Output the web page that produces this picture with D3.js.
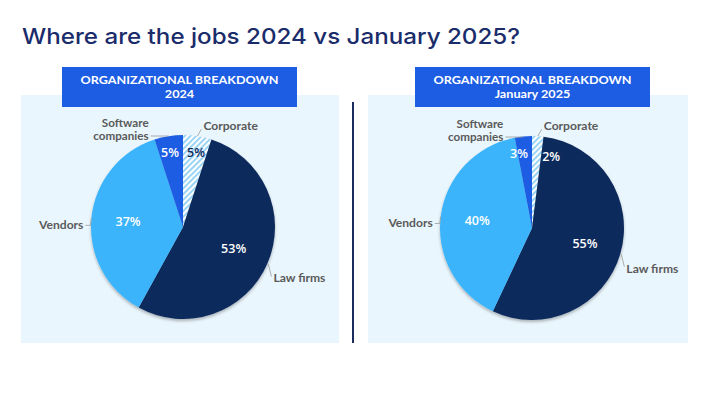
<!DOCTYPE html>
<html>
<head>
<meta charset="utf-8">
<script src="https://cdn.jsdelivr.net/npm/d3@7"></script>
<style>
  body { margin: 0; background: #fff; }
  svg { display: block; font-family: "Open Sans", "Noto Sans", sans-serif; }
</style>
</head>
<body>
<svg width="706" height="397"></svg>
<script>
// data
var categories = ["Corporate", "Law firms", "Vendors", "Software companies"]
var share2024 = [5, 53, 37, 5]
var shareJan2025 = [2, 55, 40, 3]
var panelTitles = ["2024", "January 2025"]
var headline = "Where are the jobs 2024 vs January 2025?"

var svg = d3.select('svg'),
    width = 706,
    height = 397,
    navy = '#0f2a5c',
    titleNavy = '#1b2c6b',
    brightBlue = '#1d5de4',
    skyBlue = '#3bb4fb',
    panelBg = '#eaf6fd',
    labelGrey = '#5a5a5a',
    radius = 92

var colorScale = d3.scaleOrdinal()
    .domain(categories)
    .range(['url(#hatch)', navy, skyBlue, brightBlue])

// where the outer labels sit, relative to the slice's mid point on the rim
var labelLayout = {
    "Corporate":          {dx: 6,   dy: -10, anchor: 'start', leader: [[0, 0], [4, -7]]},
    "Law firms":          {dx: 6,   dy: 15,  anchor: 'start', leader: [[1, 1], [4, 13]]},
    "Vendors":            {dx: -8,  dy: 7,   anchor: 'end',   leader: [[-1, 7], [-6, 7]]},
    "Software companies": {dx: -20, dy: -6,  anchor: 'end',   leader: [[0, -3], [-18, -3]]}
}

var defs = svg.append('defs')

var hatch = defs.append('pattern')
    .attr('id', 'hatch')
    .attr('patternUnits', 'userSpaceOnUse')
    .attr('width', 4).attr('height', 4)
    .attr('patternTransform', 'rotate(45)')
hatch.append('rect').attr('width', 4).attr('height', 4).attr('fill', '#fff')
hatch.append('rect').attr('width', 1.8).attr('height', 4).attr('fill', '#8fd0f4')

var shadow = defs.append('filter')
    .attr('id', 'pieShadow')
    .attr('x', '-20%').attr('y', '-20%').attr('width', '140%').attr('height', '140%')
shadow.append('feDropShadow')
    .attr('dx', 0).attr('dy', 2)
    .attr('stdDeviation', 1.8)
    .attr('flood-color', '#000')
    .attr('flood-opacity', 0.28)

svg.append('rect').attr('width', width).attr('height', height).attr('fill', '#fff')

// Lato is narrower than the deck's font, so stretch it a little
function widen(sel, factor){
    var w = sel.node().getComputedTextLength()
    sel.attr('textLength', w*factor).attr('lengthAdjust', 'spacingAndGlyphs')
}

// headline
svg.append('text')
    .attr('x', 22)
    .attr('y', 44)
    .attr('fill', titleNavy)
    .attr('font-family', 'Inter, "Open Sans", sans-serif')
    .attr('font-size', 22)
    .attr('font-weight', 500)
    .attr('textLength', 498)
    .attr('lengthAdjust', 'spacingAndGlyphs')
    .text(headline)

// divider between the two pies
svg.append('line')
    .attr('x1', 353).attr('x2', 353)
    .attr('y1', 102).attr('y2', 343)
    .attr('stroke', '#1a2b5e')
    .attr('stroke-width', 2)

var panels = [
    {x: 21,  w: 318, cx: 183, cy: 227, headX: 62,  headW: 235, values: share2024, title: panelTitles[0]},
    {x: 368, w: 320, cx: 532, cy: 228, headX: 415, headW: 235, values: shareJan2025, title: panelTitles[1]}
]

var pie = d3.pie().sort(null).value(d=>d.value)
var arc = d3.arc().innerRadius(0).outerRadius(radius)

panels.forEach(drawPanel)

function drawPanel(p){
    var g = svg.append('g')

    g.append('rect')
        .attr('x', p.x).attr('y', 95)
        .attr('width', p.w).attr('height', 248)
        .attr('fill', panelBg)

    g.append('rect')
        .attr('x', p.headX).attr('y', 67)
        .attr('width', p.headW).attr('height', 40)
        .attr('fill', brightBlue)

    // two single-line texts so each line keeps its own box
    var stretch = 1
    ;['ORGANIZATIONAL BREAKDOWN', p.title].forEach((line,i)=>{
        var t = g.append('text')
            .attr('x', p.headX + p.headW/2)
            .attr('y', 83.5 + i*14)
            .attr('text-anchor', 'middle')
            .attr('fill', '#fff')
            .attr('font-family', 'Lato, sans-serif')
            .attr('font-size', 11.6)
            .attr('font-weight', 700)
            .text(line)
        if (i == 0) stretch = 198 / t.node().getComputedTextLength()
        widen(t, stretch)
    })

    var slices = pie(categories.map((c,i)=>({name: c, value: p.values[i]})))

    var chart = g.append('g').attr('transform', `translate(${p.cx},${p.cy})`)

    chart.append('g')
        .attr('filter', 'url(#pieShadow)')
        .selectAll('path')
        .data(slices)
        .enter().append('path')
        .attr('d', arc)
        .attr('fill', d=>colorScale(d.data.name))

    // percentage labels
    chart.selectAll('.pct')
        .data(slices)
        .enter().append('text')
        .attr('class', 'pct')
        .attr('font-size', 12.5)
        .attr('font-weight', 600)
        .attr('dy', '0.35em')
        .text(d=>d.data.value + '%')
        .each(function(d){
            var t = d3.select(this),
                mid = (d.startAngle + d.endAngle)/2,
                left = mid > Math.PI,
                half = this.getComputedTextLength()/2
            var onSlice = true
            if (d.data.value >= 10){
                t.attr('x', Math.sin(mid)*radius*0.6)
                 .attr('y', -Math.cos(mid)*radius*0.6)
                 .attr('text-anchor', 'middle')
            } else if (d.data.value >= 3){
                t.attr('x', (left ? -1 : 1)*(half + 4))
                 .attr('y', -radius*0.81)
                 .attr('text-anchor', 'middle')
            } else {
                // too thin to hold its label: it sits just past the slice
                onSlice = false
                var edge = left ? d.startAngle : d.endAngle
                t.attr('x', Math.sin(edge)*radius*0.8 + (left ? -1 : 1))
                 .attr('y', -radius*0.78)
                 .attr('text-anchor', left ? 'end' : 'start')
            }
            t.attr('fill', onSlice && d.data.name == 'Corporate' ? navy : '#fff')
        })

    // outer category labels with leader lines
    slices.forEach(d=>{
        var mid = (d.startAngle + d.endAngle)/2,
            ax = Math.sin(mid)*radius,
            ay = -Math.cos(mid)*radius,
            lay = labelLayout[d.data.name],
            tx = ax + lay.dx,
            ty = ay + lay.dy

        var pts = [[ax, ay]].concat(lay.leader.map(q=>[ax + q[0], ay + q[1]]))
        if (d.data.name == 'Software companies') pts = [[ax, -radius + 1], [tx + 2, -radius + 1]]
        chart.append('path')
            .attr('d', d3.line()(pts))
            .attr('fill', 'none')
            .attr('stroke', '#9a9a9a')
            .attr('stroke-width', 0.8)

        var words = d.data.name == 'Software companies' ? ['Software', 'companies'] : [d.data.name]
        words.forEach((w,i)=>{
            var t = chart.append('text')
                .attr('x', tx)
                .attr('y', ty + (i - (words.length - 1)/2)*12.8)
                .attr('dy', '0.35em')
                .attr('fill', labelGrey)
                .attr('font-family', 'Lato, sans-serif')
                .attr('font-size', words.length > 1 ? 10.6 : 11)
                .attr('font-weight', 700)
                .attr('text-anchor', lay.anchor)
                .text(w)
            widen(t, 1.1)
        })
    })
}
</script>
</body>
</html>
